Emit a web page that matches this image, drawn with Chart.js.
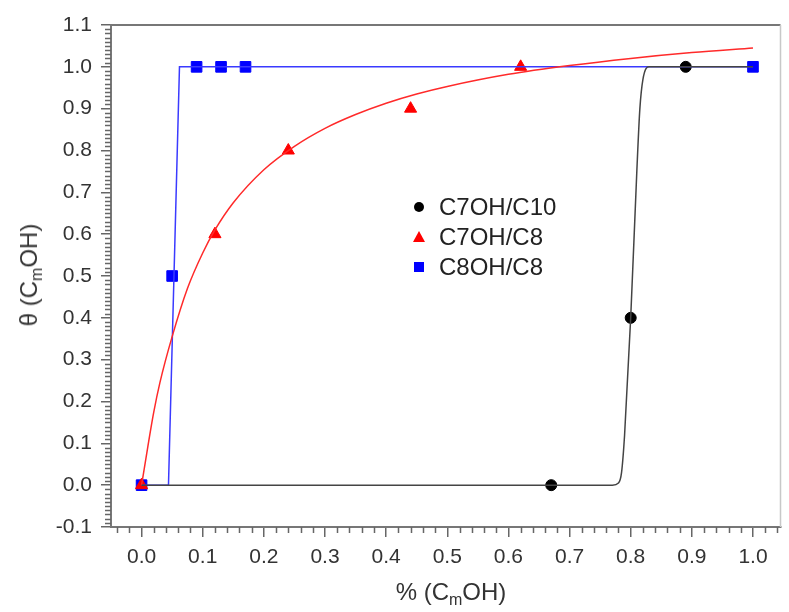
<!DOCTYPE html>
<html>
<head>
<meta charset="utf-8">
<script src="https://cdn.jsdelivr.net/npm/chart.js@4/dist/chart.umd.min.js"></script>
<style>
  body { margin: 0; background: #fff; }
  #wrap { position: relative; width: 789px; height: 612px; font-family: "Liberation Sans", Arial, sans-serif; color: #333; }
  canvas { position: absolute; left: 0; top: 0; }
  .ytitle { position: absolute; left: 29px; top: 275px; transform: translate(-50%, -50%) rotate(-90deg); font-size: 24px; white-space: nowrap; }
  .xtitle { position: absolute; left: 451px; top: 592px; transform: translate(-50%, -50%); font-size: 24px; white-space: nowrap; }
  sub { font-size: 16px; vertical-align: -5px; line-height: 0; }
  .legend { position: absolute; left: 410px; top: 192px; font-size: 24px; color: #222; }
  .legend div { height: 30px; position: relative; padding-left: 29px; line-height: 30px; }
  .mk { position: absolute; }
  .dot { left: 4px; top: 10px; width: 10px; height: 10px; border-radius: 50%; background: #000; }
  .tri { left: 3px; top: 9px; width: 0; height: 0; border-left: 6px solid transparent; border-right: 6px solid transparent; border-bottom: 11px solid #f00; }
  .sq { left: 4px; top: 10px; width: 10px; height: 10px; background: #0000ff; }
</style>
</head>
<body>
<div id="wrap">
  <canvas id="c" width="789" height="612"></canvas>
  <div class="ytitle">θ (C<sub>m</sub>OH)</div>
  <div class="xtitle">% (C<sub>m</sub>OH)</div>
  <div class="legend">
    <div><span class="mk dot"></span>C7OH/C10</div>
    <div><span class="mk tri"></span>C7OH/C8</div>
    <div><span class="mk sq"></span>C8OH/C8</div>
  </div>
</div>
<script>
// tick labels
const xTicks = [0.0, 0.1, 0.2, 0.3, 0.4, 0.5, 0.6, 0.7, 0.8, 0.9, 1.0];
const yTicks = [-0.1, 0.0, 0.1, 0.2, 0.3, 0.4, 0.5, 0.6, 0.7, 0.8, 0.9, 1.0, 1.1];

// measured points
const c7c10X = [0.67, 0.80, 0.89];
const c7c10Y = [0.0, 0.40, 1.0];
const c7c8X = [0.0, 0.12, 0.24, 0.44, 0.62];
const c7c8Y = [0.0, 0.60, 0.80, 0.90, 1.0];
const c8c8X = [0.0, 0.05, 0.09, 0.13, 0.17, 1.0];
const c8c8Y = [0.0, 0.50, 1.0, 1.0, 1.0, 1.0];

// fitted curves
const fitC7C10X = [0.0, 0.77, 0.78, 0.785, 0.79, 0.80, 0.81, 0.815, 0.82, 0.83, 1.0];
const fitC7C10Y = [0.0, 0.0, 0.005, 0.03, 0.12, 0.40, 0.75, 0.90, 0.97, 1.0, 1.0];
const fitC7C8X = [0.0, 0.01, 0.02, 0.03, 0.05, 0.075, 0.1, 0.12, 0.15, 0.2, 0.25, 0.3, 0.35, 0.4, 0.45, 0.5, 0.6, 0.7, 0.8, 0.9, 1.0];
const fitC7C8Y = [0.0, 0.09, 0.175, 0.245, 0.355, 0.47, 0.555, 0.61, 0.675, 0.754, 0.81, 0.853, 0.886, 0.913, 0.935, 0.953, 0.982, 1.003, 1.02, 1.034, 1.045];
const fitC8C8X = [0.0, 0.044, 0.062, 1.0];
const fitC8C8Y = [0.0, 0.0, 1.0, 1.0];

const pts = (xs, ys) => xs.map((x, i) => ({ x: x, y: ys[i] }));

// minor ticks and the top/right frame
const framePlugin = {
  id: 'frame',
  afterDraw(chart) {
    const ctx = chart.ctx;
    const a = chart.chartArea;
    const xs = chart.scales.x, ys = chart.scales.y;
    ctx.save();
    ctx.strokeStyle = '#666';
    ctx.lineWidth = 1.5;
    ctx.beginPath();
    for (let i = -2; i <= 52; i++) {
      if (i % 5 === 0) continue;
      const px = Math.round(xs.getPixelForValue(i * 0.02)) + 0.5;
      if (px < a.left || px > a.right) continue;
      ctx.moveTo(px, a.bottom);
      ctx.lineTo(px, a.bottom + 6);
    }
    for (let i = -10; i <= 110; i++) {
      if (i % 10 === 0) continue;
      const py = Math.round(ys.getPixelForValue(i * 0.01)) + 0.5;
      ctx.moveTo(a.left - 6, py);
      ctx.lineTo(a.left, py);
    }
    ctx.stroke();
    ctx.strokeStyle = '#777';
    ctx.lineWidth = 2;
    ctx.beginPath();
    ctx.moveTo(a.left, a.top);
    ctx.lineTo(a.right, a.top);
    ctx.stroke();
    ctx.strokeStyle = '#c8c8c8';
    ctx.lineWidth = 1.5;
    ctx.beginPath();
    ctx.moveTo(a.right, a.top);
    ctx.lineTo(a.right, a.bottom);
    ctx.stroke();
    ctx.restore();
  }
};

new Chart(document.getElementById('c').getContext('2d'), {
  type: 'scatter',
  data: {
    datasets: [
      { label: 'fit C7OH/C10', data: pts(fitC7C10X, fitC7C10Y), showLine: true, borderColor: '#444', borderWidth: 1.5, pointRadius: 0, cubicInterpolationMode: 'monotone' },
      { label: 'fit C7OH/C8', data: pts(fitC7C8X, fitC7C8Y), showLine: true, borderColor: '#ff2a2a', borderWidth: 1.5, pointRadius: 0, cubicInterpolationMode: 'monotone' },
      { label: 'fit C8OH/C8', data: pts(fitC8C8X, fitC8C8Y), showLine: true, borderColor: '#3a3aff', borderWidth: 1.5, pointRadius: 0, tension: 0 },
      { label: 'C7OH/C10', data: pts(c7c10X, c7c10Y), pointStyle: 'circle', pointRadius: 5.5, backgroundColor: '#000', borderColor: '#000' },
      { label: 'C7OH/C8', data: pts(c7c8X, c7c8Y), pointStyle: 'triangle', pointRadius: 7, backgroundColor: '#f00', borderColor: '#f00' },
      { label: 'C8OH/C8', data: pts(c8c8X, c8c8Y), pointStyle: 'rect', pointRadius: 7.5, backgroundColor: '#0000ff', borderColor: '#0000ff' }
    ]
  },
  options: {
    responsive: false,
    animation: false,
    layout: { padding: { top: 25, right: 2, left: 0, bottom: 0 } },
    plugins: { legend: { display: false }, tooltip: { enabled: false } },
    scales: {
      x: {
        type: 'linear',
        min: -0.05,
        max: 1.045,
        afterBuildTicks: s => { s.ticks = xTicks.map(v => ({ value: v })); },
        afterFit: s => { s.height = 85; },
        ticks: { color: '#333', font: { size: 21, family: 'Liberation Sans' }, padding: 8, maxRotation: 0, callback: v => v.toFixed(1) },
        grid: { drawOnChartArea: false, drawTicks: true, tickLength: 10, color: '#666', lineWidth: 1.5 },
        border: { display: true, color: '#777', width: 2 }
      },
      y: {
        type: 'linear',
        min: -0.1,
        max: 1.1,
        afterBuildTicks: s => { s.ticks = yTicks.map(v => ({ value: v })); },
        afterFit: s => { s.width = 111; },
        ticks: { color: '#333', font: { size: 21, family: 'Liberation Sans' }, padding: 9, callback: v => v.toFixed(1) },
        grid: { drawOnChartArea: false, drawTicks: true, tickLength: 10, color: '#666', lineWidth: 1.5 },
        border: { display: true, color: '#777', width: 2 }
      }
    }
  },
  plugins: [framePlugin]
});
</script>
</body>
</html>
